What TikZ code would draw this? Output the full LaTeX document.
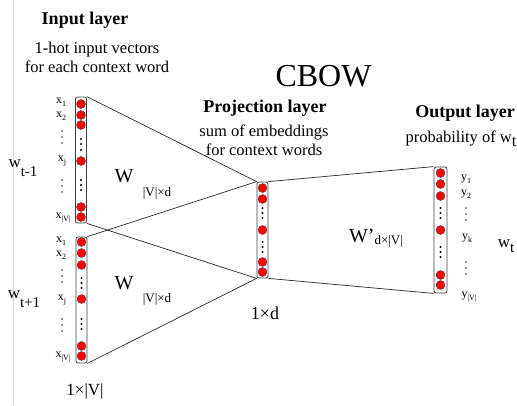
\documentclass[tikz,border=0pt]{standalone}
\usepackage{fontspec}
\setmainfont{Liberation Serif}
\newcommand{\fsz}[1]{\fontsize{#1}{#1}\selectfont}
\newcommand{\lbl}[2]{{\fsz{12}#1}\raisebox{-3pt}{\fsz{8}#2}}
\begin{document}
\begin{tikzpicture}[x=1pt,y=-1pt,
  vec/.style={draw=black!75, rounded corners=2pt, line width=0.8pt, fill=white, minimum width=11pt, inner sep=0pt},
  unit/.style={circle, fill=red, draw=black!70, line width=0.4pt, minimum size=9pt, inner sep=0pt},
  conn/.style={draw=black!85, line width=0.7pt},
  txt/.style={font=\fsz{16.5}, inner sep=0pt, align=center},
  head/.style={font=\fsz{18}\bfseries, inner sep=0pt},
  lab/.style={inner sep=0pt}]
\useasboundingbox (0,0) rectangle (517,405);
\draw[black!15, line width=0.8pt] (13,0) -- (13,405);

% vectors
\node[vec, minimum height=126pt] (in1) at (81,160) {};
\node[vec, minimum height=126pt] (in2) at (81.5,300) {};
\node[vec, minimum height=96pt] (proj) at (262.5,230) {};
\node[vec, minimum width=13pt, minimum height=126pt] (out) at (440.5,230) {};

% connectors
\draw[conn] (in1.north east) -- (proj.north west);
\draw[conn] (in1.south east) -- (proj.south west);
\draw[conn] (in2.north east) -- (proj.north west);
\draw[conn] (in2.south east) -- (proj.south west);
\draw[conn] (proj.north east) -- (out.north west);
\draw[conn] (proj.south east) -- (out.south west);

% units
\foreach \y [count=\i] in {104,115,125,161,207,217} \node[unit] (a\i) at (81,\y) {};
\foreach \y in {139,144,150,180,185,190} \fill (81,\y) circle (1.1pt);
\foreach \y [count=\i] in {242,253,265,299,346,356} \node[unit] (b\i) at (81.5,\y) {};
\foreach \y in {278,283,288,319,324,329} \fill (81.5,\y) circle (1.1pt);
\foreach \y [count=\i] in {188,199,230,262,272} \node[unit] (p\i) at (262.5,\y) {};
\foreach \y in {208,213,218,242,247,252} \fill (262.5,\y) circle (1.1pt);
\foreach \y [count=\i] in {173,184,196,230,275,285} \node[unit] (o\i) at (440.5,\y) {};
\foreach \y in {208,213,218,247,252,257} \fill (440.5,\y) circle (1.1pt);

% label dots
\foreach \y in {131,137,143,180,186,192} \fill[black!80] (62,\y) circle (0.8pt);
\foreach \y in {270,276,282,319,325,331} \fill[black!80] (62,\y) circle (0.8pt);
\foreach \y in {208,214,220,262,268,274} \fill[black!80] (466,\y) circle (0.8pt);

% input labels
\node[lab] (x1a) at (61,102) {\lbl{x}{1}};
\node[lab] (x2a) at (61,116) {\lbl{x}{2}};
\node[lab] (xja) at (62,161) {\lbl{x}{j}};
\node[lab] (xva) at (63,218) {\lbl{x}{|V|}};
\node[lab] (x1b) at (61,241) {\lbl{x}{1}};
\node[lab] (x2b) at (61,255) {\lbl{x}{2}};
\node[lab] (xjb) at (62,300) {\lbl{x}{j}};
\node[lab] (xvb) at (63,357) {\lbl{x}{|V|}};

% output labels
\node[lab] (y1) at (466,179) {\lbl{y}{1}};
\node[lab] (y2) at (466,194) {\lbl{y}{2}};
\node[lab] (yk) at (467,238) {\lbl{y}{k}};
\node[lab] (yv) at (469,297) {\lbl{y}{|V|}};

% word labels
\node[lab] (wm) at (23,168) {{\fsz{17}w}\raisebox{-9pt}{\fsz{15}t-1}};
\node[lab] (wp) at (24,299) {{\fsz{17}w}\raisebox{-9pt}{\fsz{15}t+1}};
\node[lab] (wt) at (506,246) {{\fsz{17}w}\raisebox{-5pt}{\fsz{15}t}};

% headings
\node[head] (inhead) at (85,20) {Input layer};
\node[txt] (indesc) at (97,57) {1-hot input vectors\\[2.5pt]for each context word};
\node[font=\fsz{32}, inner sep=0pt] (cbow) at (323.5,76) {CBOW};
\node[head] (projhead) at (265,108) {Projection layer};
\node[txt] (projdesc) at (264,140) {sum of embeddings\\[2.5pt]for context words};
\node[head] (outhead) at (465,113) {Output layer};
\node[txt] (outdesc) at (461,139) {probability of w\raisebox{-4pt}{t}};

% weight labels
\node[lab, font=\fsz{20}] (Wa) at (124,176) {W};
\node[lab, font=\fsz{13}] (Was) at (157,193) {|V|×d};
\node[lab, font=\fsz{20}] (Wb) at (124,283) {W};
\node[lab, font=\fsz{13}] (Wbs) at (157,299) {|V|×d};
\node[lab] (Wc) at (376,238) {{\fsz{20}W’}\raisebox{-2pt}{\fsz{13}d×|V|}};

% dimension labels
\node[lab, font=\fsz{17}] (dimin) at (85,391) {1×|V|};
\node[lab, font=\fsz{18}] (dimp) at (265,313) {1×d};
\end{tikzpicture}
\end{document}
